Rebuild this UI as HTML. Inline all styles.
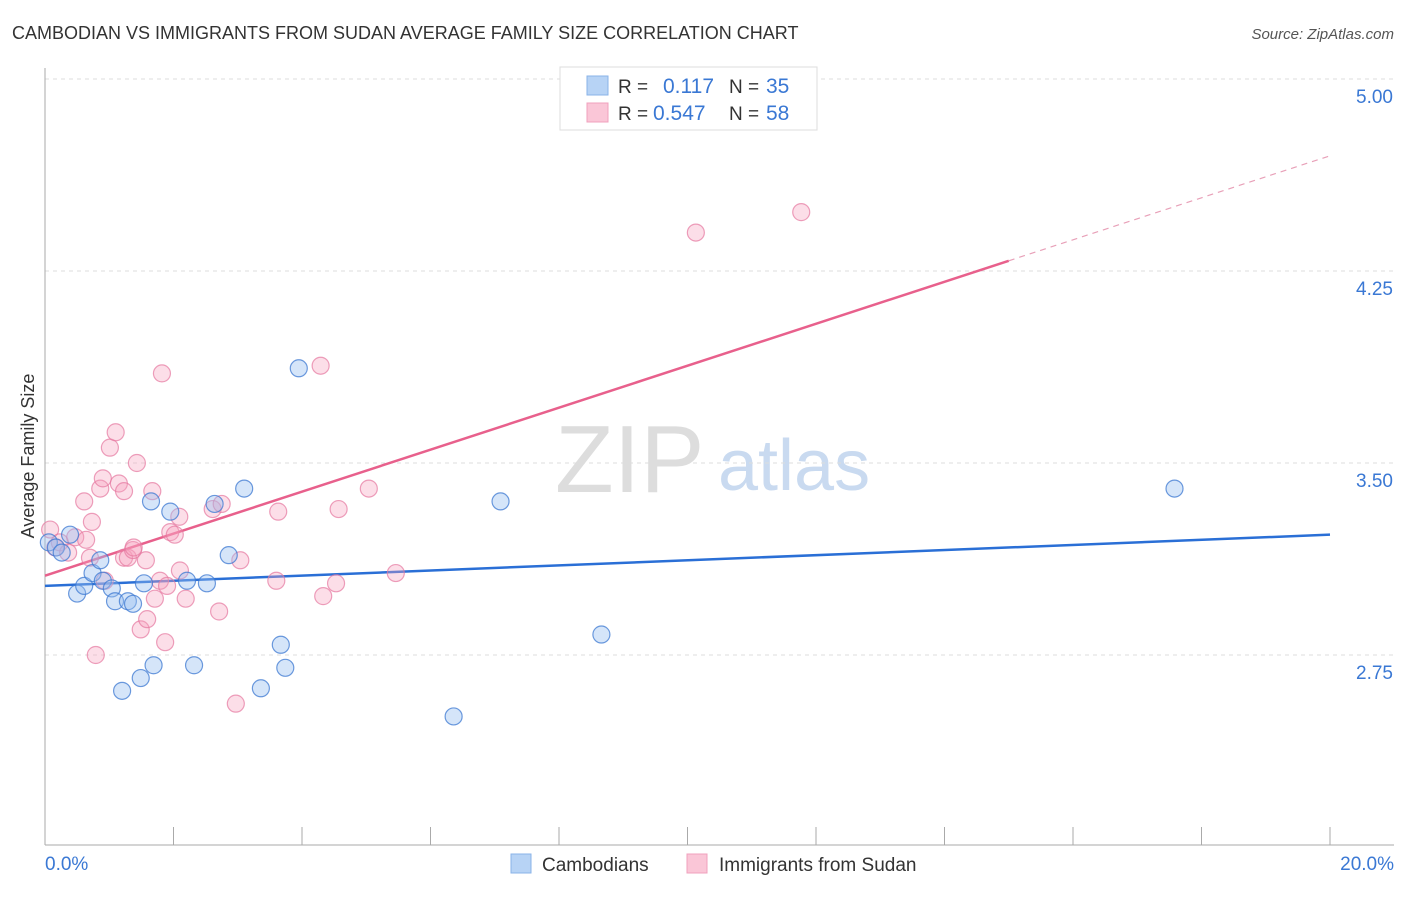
<!DOCTYPE html>
<html><head><meta charset="utf-8"><style>
body{margin:0;background:#fff;font-family:"Liberation Sans",sans-serif;}
svg text{font-family:"Liberation Sans",sans-serif;}
</style></head><body>
<svg id="chart" width="1406" height="892" xmlns="http://www.w3.org/2000/svg">
<text x="12" y="39" font-size="18" fill="#333">CAMBODIAN VS IMMIGRANTS FROM SUDAN AVERAGE FAMILY SIZE CORRELATION CHART</text>
<text x="1394" y="39" font-size="15" fill="#555" font-style="italic" text-anchor="end">Source: ZipAtlas.com</text>
<text x="0" y="0" font-size="18" fill="#333" text-anchor="middle" transform="translate(34,456) rotate(-90)">Average Family Size</text>
<text x="555" y="492" font-size="96" fill="#ddd" font-family="Liberation Serif">ZIP</text>
<text x="718" y="490" font-size="72" fill="#c9daf0">atlas</text>
<g id="grid"></g><g id="axes"></g><g id="lines"></g><g id="pts"></g>
<g>
<rect x="560" y="67" width="257" height="63" fill="#fff" stroke="#ddd"/>
<rect x="587" y="76" width="21" height="19" fill="#b7d3f5" stroke="#8ab3e8"/>
<rect x="587" y="103" width="21" height="19" fill="#fac6d7" stroke="#f0a0bd"/>
<text x="618" y="93" font-size="19" fill="#333">R = </text><text x="663" y="93" font-size="21" fill="#3a78d4">0.117</text>
<text x="729" y="93" font-size="19" fill="#333">N = </text><text x="766" y="93" font-size="21" fill="#3a78d4">35</text>
<text x="618" y="120" font-size="19" fill="#333">R = </text><text x="653" y="120" font-size="21" fill="#3a78d4">0.547</text>
<text x="729" y="120" font-size="19" fill="#333">N = </text><text x="766" y="120" font-size="21" fill="#3a78d4">58</text>
</g>
<g>
<rect x="511" y="854" width="20" height="19" fill="#b7d3f5" stroke="#8ab3e8"/>
<text x="542" y="871" font-size="19" fill="#333">Cambodians</text>
<rect x="687" y="854" width="20" height="19" fill="#fac6d7" stroke="#f0a0bd"/>
<text x="719" y="871" font-size="19" fill="#333">Immigrants from Sudan</text>
</g>
</svg>
<script>
const yTicks=[2.75,3.5,4.25,5.0];
const yTickLabels=["2.75","3.50","4.25","5.00"];
const xTickLabels=["0.0%","20.0%"];
const blueX=[0.06,0.17,0.26,0.39,0.5,0.61,0.74,0.86,0.9,1.04,1.09,1.29,1.37,1.2,1.49,1.69,1.54,1.65,1.95,2.21,2.32,2.52,2.64,2.86,3.1,3.36,3.67,3.74,3.95,6.36,7.09,8.66,17.58];
const blueY=[3.19,3.17,3.15,3.22,2.99,3.02,3.07,3.12,3.04,3.01,2.96,2.96,2.95,2.61,2.66,2.71,3.03,3.35,3.31,3.04,2.71,3.03,3.34,3.14,3.40,2.62,2.79,2.70,3.87,2.51,3.35,2.83,3.40];
const pinkX=[0.08,0.16,0.23,0.36,0.47,0.61,0.64,0.73,0.7,0.79,0.86,0.9,0.93,1.01,1.1,1.15,1.23,1.23,1.29,1.37,1.38,1.43,1.49,1.57,1.59,1.67,1.71,1.79,1.82,1.87,1.9,1.95,2.02,2.1,2.09,2.19,2.61,2.71,2.75,2.97,3.04,3.6,3.63,4.29,4.33,4.53,4.57,5.04,5.46,10.13,11.77];
const pinkY=[3.24,3.17,3.19,3.15,3.21,3.35,3.2,3.27,3.13,2.75,3.4,3.44,3.04,3.56,3.62,3.42,3.39,3.13,3.13,3.16,3.17,3.5,2.85,3.12,2.89,3.39,2.97,3.04,3.85,2.8,3.02,3.23,3.22,3.08,3.29,2.97,3.32,2.92,3.34,2.56,3.12,3.04,3.31,3.88,2.98,3.03,3.32,3.4,3.07,4.4,4.48];
const blueTrend=[[0,3.02],[20,3.22]];
const pinkTrend=[[0,3.06],[15,4.29],[20,4.70]];
const NS="http://www.w3.org/2000/svg";
const X=v=>45+v/20*1285, Y=v=>79+(5-v)*256;
function mk(tag,attrs,parent){const e=document.createElementNS(NS,tag);for(const k in attrs)e.setAttribute(k,attrs[k]);document.getElementById(parent).appendChild(e);return e;}
yTicks.forEach((t,i)=>{
 const g=mk('line',{x1:45,x2:1394,y1:Y(t),y2:Y(t),stroke:'#ddd','stroke-dasharray':'4,4'},'grid');
 
 
 const tx=mk('text',{x:1393,y:Y(t)+24,'font-size':19,fill:'#3a78d4','text-anchor':'end'},'grid');
 tx.textContent=yTickLabels[i];
 
 
});
const ya=mk('line',{x1:45,x2:45,y1:68,y2:845,stroke:'#aaa'},'axes');


const xa=mk('line',{x1:45,x2:1394,y1:845,y2:845,stroke:'#aaa'},'axes');


for(let i=0;i<=10;i++){const t=mk('line',{x1:X(i*2),x2:X(i*2),y1:827,y2:845,stroke:'#aaa'},'axes');
 
 }
[[0,'start',45],[20,'end',1394]].forEach((a,i)=>{const t=mk('text',{x:a[2],y:870,'font-size':19,fill:'#3a78d4','text-anchor':a[1]},'axes');t.textContent=xTickLabels[i];
 
 });
function dot(x,y,fill,stroke,nm){const c=mk('circle',{cx:X(x),cy:Y(y),r:8.5,fill:fill,stroke:stroke,'stroke-width':1.2},'pts');
 
 }
pinkX.forEach((x,i)=>dot(x,pinkY[i],'rgba(245,160,190,0.35)','rgba(230,120,160,0.7)','sudan-point'));
blueX.forEach((x,i)=>dot(x,blueY[i],'rgba(150,190,240,0.4)','rgba(60,120,210,0.75)','cambodian-point'));
const bl=mk('line',{x1:X(blueTrend[0][0]),y1:Y(blueTrend[0][1]),x2:X(blueTrend[1][0]),y2:Y(blueTrend[1][1]),stroke:'#2a6fd6','stroke-width':2.5},'lines');


const pl=mk('line',{x1:X(pinkTrend[0][0]),y1:Y(pinkTrend[0][1]),x2:X(pinkTrend[1][0]),y2:Y(pinkTrend[1][1]),stroke:'#e8608c','stroke-width':2.5},'lines');


const pd=mk('line',{x1:X(pinkTrend[1][0]),y1:Y(pinkTrend[1][1]),x2:X(pinkTrend[2][0]),y2:Y(pinkTrend[2][1]),stroke:'#e8a0b8','stroke-width':1.2,'stroke-dasharray':'6,5'},'lines');


</script>
</body></html>
